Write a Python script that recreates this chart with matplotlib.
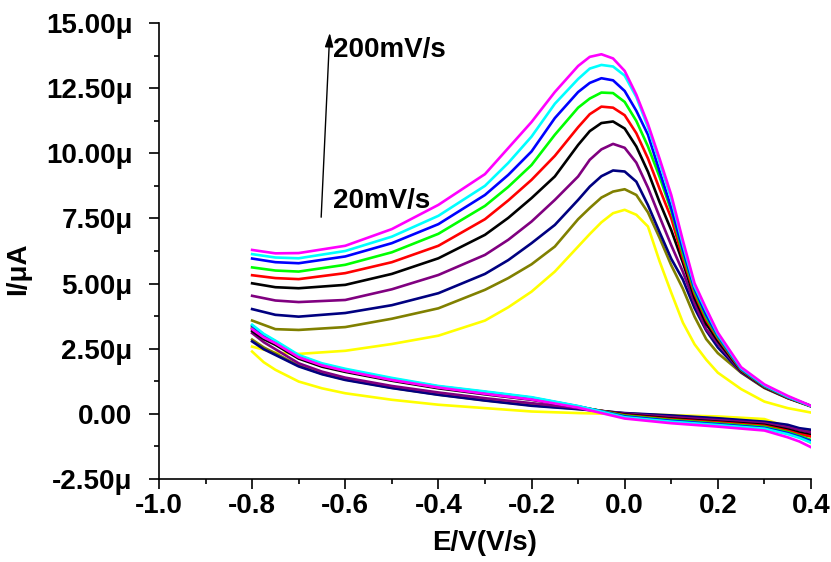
import matplotlib
matplotlib.use("Agg")
import matplotlib.pyplot as plt
from matplotlib.ticker import FuncFormatter, MultipleLocator

plt.rcParams["font.family"] = ["Liberation Sans", "DejaVu Sans"]
plt.rcParams["font.weight"] = "bold"

# potential grids (V)
E_FWD = [-0.8, -0.75, -0.7, -0.6, -0.5, -0.4, -0.3, -0.25, -0.2, -0.15, -0.1,
         -0.075, -0.05, -0.025, 0.0, 0.025, 0.05, 0.075, 0.1, 0.125, 0.15,
         0.175, 0.2, 0.25, 0.3, 0.35, 0.4]
E_REV = [0.4, 0.375, 0.35, 0.3, 0.2, 0.1, 0.0, -0.1, -0.2, -0.3, -0.4, -0.5,
         -0.6, -0.65, -0.7, -0.75, -0.775, -0.8]

# scan rates, low to high
SCAN_RATES = [20, 40, 60, 80, 100, 120, 140, 160, 180, 200]
COLORS = ["#ffff00", "#808000", "#000080", "#800080", "#000000",
          "#ff0000", "#00ff00", "#0000ff", "#00ffff", "#ff00ff"]

# forward (anodic) currents, uA
fwd_20 = [2.58, 2.35, 2.30, 2.42, 2.68, 3.00, 3.58, 4.09, 4.69, 5.46, 6.42,
          6.90, 7.35, 7.70, 7.83, 7.64, 7.19, 5.85, 4.65, 3.50, 2.67,
          2.08, 1.58, 0.95, 0.47, 0.22, 0.05]
fwd_40 = [3.58, 3.25, 3.22, 3.33, 3.65, 4.05, 4.76, 5.21, 5.74, 6.42, 7.47,
          7.90, 8.30, 8.53, 8.62, 8.40, 7.73, 6.75, 5.70, 4.80, 3.73,
          2.87, 2.33, 1.58, 0.99, 0.60, 0.28]
fwd_60 = [4.02, 3.80, 3.73, 3.87, 4.17, 4.63, 5.37, 5.90, 6.55, 7.25, 8.21,
          8.72, 9.12, 9.34, 9.30, 8.91, 8.01, 6.97, 5.95, 5.15, 4.06,
          3.20, 2.55, 1.60, 1.01, 0.61, 0.30]
fwd_80 = [4.53, 4.35, 4.29, 4.37, 4.78, 5.33, 6.10, 6.68, 7.38, 8.21, 9.11,
          9.75, 10.15, 10.36, 10.21, 9.64, 8.68, 7.56, 6.47, 5.45, 4.25,
          3.25, 2.70, 1.62, 1.02, 0.61, 0.30]
fwd_100 = [5.01, 4.86, 4.82, 4.95, 5.37, 5.97, 6.87, 7.52, 8.28, 9.11, 10.32,
           10.85, 11.16, 11.22, 10.95, 10.26, 9.29, 8.12, 7.05, 5.80, 4.45,
           3.45, 2.80, 1.65, 1.03, 0.62, 0.30]
fwd_120 = [5.32, 5.21, 5.17, 5.40, 5.82, 6.45, 7.47, 8.19, 8.98, 9.90, 11.00,
           11.50, 11.79, 11.75, 11.46, 10.77, 9.80, 8.63, 7.51, 5.97, 4.60,
           3.60, 2.90, 1.68, 1.05, 0.63, 0.30]
fwd_140 = [5.62, 5.50, 5.46, 5.72, 6.20, 6.91, 7.98, 8.71, 9.55, 10.71, 11.75,
           12.10, 12.33, 12.31, 11.97, 11.24, 10.26, 9.09, 7.80, 6.15, 4.70,
           3.70, 2.95, 1.70, 1.06, 0.64, 0.30]
fwd_160 = [5.96, 5.82, 5.78, 6.04, 6.55, 7.28, 8.40, 9.17, 10.07, 11.35, 12.35,
           12.70, 12.88, 12.80, 12.39, 11.63, 10.71, 9.30, 7.90, 6.30, 4.80,
           3.80, 3.00, 1.72, 1.08, 0.65, 0.30]
fwd_180 = [6.13, 6.00, 5.97, 6.25, 6.80, 7.60, 8.75, 9.63, 10.64, 11.90, 12.85,
           13.25, 13.39, 13.33, 12.98, 12.16, 11.00, 9.65, 8.25, 6.50, 4.90,
           3.95, 3.05, 1.75, 1.10, 0.66, 0.30]
fwd_200 = [6.29, 6.16, 6.17, 6.45, 7.09, 8.02, 9.20, 10.20, 11.20, 12.35, 13.35,
           13.70, 13.80, 13.64, 13.16, 12.25, 11.12, 9.79, 8.40, 6.65, 5.01,
           4.04, 3.12, 1.79, 1.13, 0.69, 0.31]

# reverse (cathodic) currents, uA
rev_20 = [-1.12, -0.87, -0.51, -0.20, -0.10, -0.05, -0.01, 0.03, 0.09, 0.22,
          0.35, 0.54, 0.79, 0.98, 1.24, 1.69, 1.98, 2.39]
rev_40 = [-0.65, -0.58, -0.46, -0.32, -0.19, -0.08, 0.02, 0.19, 0.33, 0.52,
          0.74, 1.00, 1.32, 1.54, 1.85, 2.32, 2.55, 2.85]
rev_60 = [-0.61, -0.55, -0.42, -0.30, -0.17, -0.06, 0.03, 0.18, 0.31, 0.51,
          0.73, 0.99, 1.30, 1.52, 1.82, 2.26, 2.48, 2.78]
rev_80 = [-0.72, -0.63, -0.52, -0.36, -0.24, -0.12, 0.01, 0.22, 0.41, 0.60,
          0.82, 1.07, 1.39, 1.62, 1.94, 2.48, 2.75, 3.10]
rev_100 = [-0.81, -0.72, -0.60, -0.42, -0.30, -0.18, -0.02, 0.25, 0.54, 0.75,
           0.98, 1.27, 1.61, 1.81, 2.12, 2.65, 2.87, 3.18]
rev_120 = [-0.87, -0.78, -0.65, -0.46, -0.33, -0.21, -0.05, 0.27, 0.58, 0.80,
           1.02, 1.31, 1.66, 1.87, 2.19, 2.72, 2.96, 3.28]
rev_140 = [-1.00, -0.84, -0.70, -0.50, -0.37, -0.24, -0.07, 0.28, 0.60, 0.82,
           1.03, 1.33, 1.68, 1.89, 2.21, 2.75, 3.00, 3.33]
rev_160 = [-1.05, -0.88, -0.74, -0.54, -0.40, -0.27, -0.10, 0.29, 0.62, 0.84,
           1.05, 1.35, 1.70, 1.91, 2.23, 2.78, 3.04, 3.38]
rev_180 = [-1.10, -0.92, -0.78, -0.57, -0.43, -0.30, -0.13, 0.30, 0.64, 0.86,
           1.07, 1.38, 1.73, 1.94, 2.26, 2.81, 3.07, 3.42]
rev_200 = [-1.28, -1.06, -0.90, -0.64, -0.49, -0.36, -0.18, 0.24, 0.55, 0.77,
           1.01, 1.30, 1.65, 1.86, 2.17, 2.71, 2.93, 3.25]

FWD = [fwd_20, fwd_40, fwd_60, fwd_80, fwd_100, fwd_120, fwd_140, fwd_160, fwd_180, fwd_200]
REV = [rev_20, rev_40, rev_60, rev_80, rev_100, rev_120, rev_140, rev_160, rev_180, rev_200]


def _ylabel(v, _pos):
    if abs(v) < 1e-9:
        return "0.00"
    return f"{v:.2f}\u03bc"


fig = plt.figure(figsize=(8.31, 5.62), dpi=100)
ax = fig.add_axes([0.1913, 0.1477, 0.7846, 0.8114])

for rate, color, fwd, rev in zip(SCAN_RATES, COLORS, FWD, REV):
    ax.plot(E_FWD, fwd, color=color, lw=1.9, solid_joinstyle="round")
    ax.plot(E_REV, rev, color=color, lw=1.9, solid_joinstyle="round")

ax.set_xlim(-1.0, 0.4)
ax.set_ylim(-2.5, 15.0)
ax.xaxis.set_major_locator(MultipleLocator(0.2))
ax.xaxis.set_minor_locator(MultipleLocator(0.1))
ax.yaxis.set_major_locator(MultipleLocator(2.5))
ax.yaxis.set_minor_locator(MultipleLocator(1.25))
ax.xaxis.set_major_formatter(FuncFormatter(lambda v, p: f"{v:.1f}"))
ax.yaxis.set_major_formatter(FuncFormatter(_ylabel))

for side in ("top", "right"):
    ax.spines[side].set_visible(False)
for side in ("left", "bottom"):
    ax.spines[side].set_linewidth(1.2)

ax.tick_params(axis="both", which="major", direction="out", length=7, width=1.2,
               labelsize=20)
ax.tick_params(axis="both", which="minor", direction="out", length=3.5, width=1.2)
ax.tick_params(axis="y", which="major", pad=12)
ax.tick_params(axis="x", which="major", pad=3)

ax.set_xlabel("E/V(V/s)", fontsize=20, fontweight="bold", labelpad=8)
ax.set_ylabel("I/\u03bcA", fontsize=20, fontweight="bold")
ax.yaxis.set_label_coords(-0.196, 0.46)

ax.annotate("", xy=(-0.633, 14.73), xytext=(-0.652, 7.44),
            arrowprops=dict(arrowstyle="-|>,head_length=0.6,head_width=0.18",
                            color="black", lw=1.0, mutation_scale=14))
ax.text(-0.626, 13.97, "200mV/s", fontsize=20, fontweight="bold",
        ha="left", va="center")
ax.text(-0.626, 8.17, "20mV/s", fontsize=20, fontweight="bold",
        ha="left", va="center")

fig.savefig("out.png", dpi=100)
